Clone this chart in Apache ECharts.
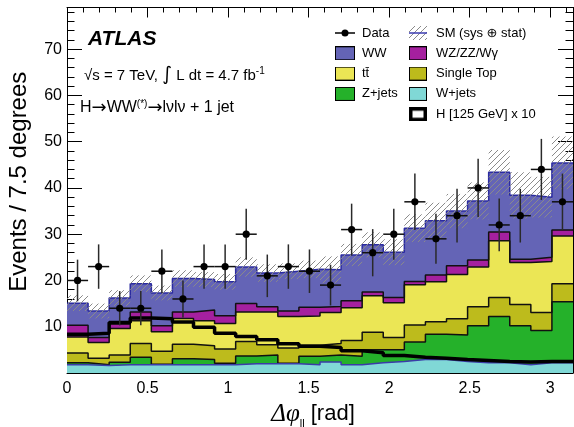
<!DOCTYPE html>
<html><head><meta charset="utf-8">
<script src="https://cdn.jsdelivr.net/npm/echarts@6/dist/echarts.min.js"></script>
<style>html,body{margin:0;padding:0;background:#fff}#c{width:574px;height:427px}</style>
</head><body><div id="c"></div>
<script>
// ---- data (24 bins of 7.5 degrees over 0..pi) ----
const NBINS = 24;
const wjets     = [1.8,1.6,1.8,1.8,1.8,1.8,1.8,1.8,2.0,2.0,2.0,1.8,2.4,1.8,2.2,2.5,2.9,2.9,2.5,2.2,2.2,1.8,2.2,2.2];
const zjets     = [0.4,0.2,0.5,1.6,0.1,1.3,1.1,0.3,1.7,1.9,0.1,1.8,1.5,1.8,2.8,2.5,3.8,5.5,5.7,8.0,10.0,8.4,7.0,13.2];
const singleTop = [2.1,1.4,1.6,3.0,2.8,3.1,3.0,3.1,3.1,2.2,3.3,2.4,2.5,3.4,3.8,2.7,3.7,2.7,3.5,4.1,4.1,4.6,3.9,3.9];
const ttbar     = [3.5,3.4,5.7,4.9,4.2,5.6,5.4,5.5,6.4,7.1,6.8,6.3,6.7,7.1,7.9,7.5,8.7,8.6,9.6,8.6,12.3,9.1,11.0,10.3];
const wzzz      = [2.5,1.1,1.0,1.9,1.3,1.4,2.3,1.7,1.8,1.1,1.2,1.9,1.3,1.5,0.8,1.1,0.7,1.5,1.9,1.5,1.9,0.7,0.9,1.3];
const ww        = [4.8,5.7,5.6,6.1,7.1,7.2,6.6,7.3,7.9,7.3,8.6,8.2,7.9,9.9,10.2,9.8,11.5,11.7,11.8,12.8,12.9,13.8,13.0,14.5];
const smErr     = [1.7,1.6,1.7,1.8,1.6,1.8,1.6,1.7,2.1,1.9,1.7,1.9,2.9,2.4,2.7,2.8,3.0,3.9,3.7,4.0,4.8,5.0,4.4,5.7];
const higgsX10  = [8.4,8.6,10.9,11.9,11.7,11.0,9.9,8.6,7.9,7.2,6.3,5.8,5.5,4.8,4.4,3.8,3.4,3.2,2.9,2.7,2.5,2.4,2.5,2.5];
const dataCounts= [20,23,14,14,22,16,23,23,30,21,23,22,19,31,26,30,37,29,34,40,32,34,44,37];
const dataErr   = [4.5,4.8,3.7,3.7,4.7,4.0,4.8,4.8,5.5,4.6,4.8,4.7,4.4,5.6,5.1,5.5,6.1,5.4,5.8,6.3,5.7,5.8,6.6,6.1];
const yTickLabels = [10,20,30,40,50,60,70];

// ---- helpers ----
const FONT = "'Liberation Sans', Arial, Helvetica, 'DejaVu Sans', sans-serif";
const edges = Array.from({length: NBINS + 1}, (_, i) => i * Math.PI / NBINS);
function stepData(vals){ return edges.map((e, i) => [e, vals[Math.min(i, vals.length - 1)]]); }

function makeCanvas(w, h, draw){ const c = document.createElement('canvas'); c.width = w; c.height = h; draw(c.getContext('2d'), w, h); return c; }
function hatch(g, w, h){
  g.strokeStyle = '#8a8a8a'; g.lineWidth = 1; g.beginPath();
  for (let k = -h; k < w + h; k += 6){ g.moveTo(k, h); g.lineTo(k + h, 0); }
  g.stroke();
}
const hatchTile = makeCanvas(6, 6, (g) => { g.strokeStyle = '#8a8a8a'; g.lineWidth = 1; g.beginPath(); g.moveTo(0,6); g.lineTo(6,0); g.moveTo(-1,1); g.lineTo(1,-1); g.moveTo(5,7); g.lineTo(7,5); g.stroke(); });
const hatchPattern = { image: hatchTile, repeat: 'repeat' };

// bottom to top
const layers = [
  {name: 'W+jets',        vals: wjets,     fill: '#80d8d6', edge: '#3b3ba8'},
  {name: 'Z+jets',        vals: zjets,     fill: '#25b12a', edge: '#111111'},
  {name: 'Single Top',    vals: singleTop, fill: '#bdbb1c', edge: '#111111'},
  {name: 'tt\u0304',      vals: ttbar,     fill: '#ebe655', edge: '#111111'},
  {name: 'WZ/ZZ/W\u03b3', vals: wzzz,      fill: '#a5209f', edge: '#111111'},
  {name: 'WW',            vals: ww,        fill: '#6464b6', edge: '#2b2ba0'}
];
// cumulative sums for the stack
const cumulative = [];
layers.forEach((L, k) => { cumulative.push(L.vals.map((v, i) => v + (k ? cumulative[k-1][i] : 0))); });
const smTotal = cumulative[cumulative.length - 1];

function boxIcon(fill, w){ return 'image://' + makeCanvas(w, 14, (g) => { g.fillStyle = fill; g.fillRect(0,0,w,14); g.strokeStyle = '#000'; g.lineWidth = 1; g.strokeRect(0.5,0.5,w-1,13); }).toDataURL(); }
const dataIcon = 'image://' + makeCanvas(20, 14, (g) => { g.strokeStyle = '#000'; g.lineWidth = 1.5; g.beginPath(); g.moveTo(0,7); g.lineTo(20,7); g.stroke(); g.beginPath(); g.arc(10,7,3.5,0,Math.PI*2); g.fillStyle='#000'; g.fill(); }).toDataURL();
const smIcon = 'image://' + makeCanvas(18, 14, (g, w, h) => { hatch(g, w, h); g.strokeStyle = '#3b3bb0'; g.lineWidth = 1.5; g.beginPath(); g.moveTo(0,7); g.lineTo(18,7); g.stroke(); }).toDataURL();
const hIcon = 'image://' + makeCanvas(18, 14, (g) => { g.fillStyle = '#fff'; g.fillRect(0,0,18,14); g.strokeStyle = '#000'; g.lineWidth = 3.5; g.strokeRect(1.75,1.75,14.5,10.5); }).toDataURL();

const chart = echarts.init(document.getElementById('c'), null, {renderer: 'canvas'});

const xBase = {type: 'value', min: 0, max: Math.PI, splitLine: {show: false}, offset: 0};
const yBase = {type: 'value', min: 0, max: 79, splitLine: {show: false}, offset: 0};
const lineBlack = {show: true, onZero: false, lineStyle: {color: '#000', width: 1}};
const noLine = {show: false, onZero: false};

// top layer first so lower layers paint over the area beneath
const series = [];
for (let k = layers.length - 1; k >= 0; k--) {
  const L = layers[k];
  series.push({
    type: 'line', name: L.name, step: 'end', data: stepData(cumulative[k]),
    symbol: 'none', showSymbol: false, silent: true, z: 2,
    lineStyle: {color: L.edge, width: 1.5},
    areaStyle: {color: L.fill, opacity: 1, origin: 'start'},
    itemStyle: {color: L.fill}
  });
}

series.push({
  type: 'custom', name: 'SM (sys \u2295 stat)', z: 3, silent: true,
  data: smTotal.map((t, i) => [edges[i], edges[i+1], t - smErr[i], t + smErr[i]]),
  encode: {x: [0, 1], y: [2, 3]},
  renderItem: (params, api) => {
    const p0 = api.coord([api.value(0), api.value(3)]);
    const p1 = api.coord([api.value(1), api.value(2)]);
    return {type: 'rect', shape: {x: p0[0], y: p0[1], width: p1[0] - p0[0], height: p1[1] - p0[1]}, style: {fill: hatchPattern}};
  }
});

series.push({
  type: 'line', name: 'H [125 GeV] x 10', step: 'end', data: stepData(higgsX10),
  symbol: 'none', showSymbol: false, silent: true, z: 4,
  lineStyle: {color: '#000', width: 3.5}
});

series.push({
  type: 'custom', name: 'Data', z: 5, silent: true,
  data: dataCounts.map((n, i) => [(edges[i] + edges[i+1]) / 2, n, dataErr[i], edges[i], edges[i+1]]),
  encode: {x: 0, y: 1},
  renderItem: (params, api) => {
    const c = api.coord([api.value(0), api.value(1)]);
    const t = api.coord([api.value(0), api.value(1) + api.value(2)]);
    const b = api.coord([api.value(0), api.value(1) - api.value(2)]);
    const l = api.coord([api.value(3), api.value(1)]);
    const r = api.coord([api.value(4), api.value(1)]);
    return {type: 'group', children: [
      {type: 'line', shape: {x1: c[0], y1: t[1], x2: c[0], y2: b[1]}, style: {stroke: '#2a2a2a', lineWidth: 1.5}},
      {type: 'line', shape: {x1: l[0], y1: c[1], x2: r[0], y2: c[1]}, style: {stroke: '#111', lineWidth: 1.5}},
      {type: 'circle', shape: {cx: c[0], cy: c[1], r: 3.6}, style: {fill: '#000'}}
    ]};
  }
});

const legendText = {fontFamily: FONT, fontSize: 13, color: '#000', fontWeight: 'normal'};
const tx = (extra) => Object.assign({fontFamily: FONT, fontSize: 15, color: '#000', fontWeight: 'normal'}, extra || {});

chart.setOption({
  animation: false,
  backgroundColor: '#fff',
  grid: {left: 67, right: 1, top: 7.5, bottom: 54, containLabel: false, outerBoundsMode: 'none'},
  title: [
    {text: 'ATLAS', left: 88, top: 29, padding: 0,
     textStyle: {fontFamily: FONT, fontSize: 21, fontWeight: 'bold', fontStyle: 'italic', color: '#000'}},
    {text: '{a|\u221As = 7 TeV, }{i|\u222B}{a| L dt = 4.7 fb}{s|-1}', left: 84, top: 66, padding: 0,
     textStyle: {fontWeight: 'normal', rich: {
       a: tx(), i: tx({fontSize: 19, fontFamily: "'DejaVu Sans', sans-serif"}),
       s: tx({fontSize: 10, verticalAlign: 'top'})}}},
    {text: '{a|H}{r|\u2192}{a|WW}{s|(*)}{r|\u2192}{a|l\u03bdl\u03bd + 1 jet}', left: 80, top: 99, padding: 0,
     textStyle: {fontWeight: 'normal', rich: {
       a: tx({fontSize: 16}), r: tx({fontSize: 18, fontFamily: "'DejaVu Sans', sans-serif"}),
       s: tx({fontSize: 10, verticalAlign: 'top'})}}}
  ],
  legend: [
    {orient: 'vertical', left: 335, top: 26, itemWidth: 20, itemHeight: 14, itemGap: 6.3, padding: 0,
     selectedMode: false, textStyle: Object.assign({padding: [0,0,0,2]}, legendText),
     data: [
       {name: 'Data', icon: dataIcon},
       {name: 'WW', icon: boxIcon('#6464b6', 20)},
       {name: 'tt\u0304', icon: boxIcon('#ebe655', 20)},
       {name: 'Z+jets', icon: boxIcon('#25b12a', 20)}
     ]},
    {orient: 'vertical', left: 409, top: 26, itemWidth: 18, itemHeight: 14, itemGap: 6.3, padding: 0,
     selectedMode: false, textStyle: Object.assign({padding: [0,0,0,4]}, legendText),
     data: [
       {name: 'SM (sys \u2295 stat)', icon: smIcon},
       {name: 'WZ/ZZ/W\u03b3', icon: boxIcon('#a5209f', 18)},
       {name: 'Single Top', icon: boxIcon('#bdbb1c', 18)},
       {name: 'W+jets', icon: boxIcon('#80d8d6', 18)},
       {name: 'H [125 GeV] x 10', icon: hIcon}
     ]}
  ],
  xAxis: [
    Object.assign({}, xBase, {position: 'bottom', interval: 0.5, axisLine: lineBlack,
      axisTick: {inside: true, length: 10, lineStyle: {color: '#000'}},
      axisLabel: {fontFamily: FONT, fontSize: 16, color: '#000', margin: 8, showMaxLabel: false},
      name: '{g|\u0394\u03c6}{s|ll}{r| [rad]}', nameLocation: 'middle', nameGap: 20,
      nameTextStyle: {padding: [0, 14, 0, 0], rich: {
        g: {fontFamily: "'Liberation Serif', serif", fontStyle: 'italic', fontSize: 25, color: '#000', lineHeight: 30},
        s: {fontFamily: FONT, fontSize: 11, color: '#000', lineHeight: 12, verticalAlign: 'bottom'},
        r: {fontFamily: FONT, fontSize: 22, color: '#000', lineHeight: 30}}}}),
    Object.assign({}, xBase, {position: 'bottom', interval: 0.1, axisLine: noLine,
      axisTick: {inside: true, length: 5, lineStyle: {color: '#000'}}, axisLabel: {show: false}}),
    Object.assign({}, xBase, {position: 'top', interval: 0.5, axisLine: lineBlack,
      axisTick: {inside: true, length: 10, lineStyle: {color: '#000'}}, axisLabel: {show: false}}),
    Object.assign({}, xBase, {position: 'top', interval: 0.1, axisLine: noLine,
      axisTick: {inside: true, length: 5, lineStyle: {color: '#000'}}, axisLabel: {show: false}})
  ],
  yAxis: [
    Object.assign({}, yBase, {position: 'left', interval: 10, axisLine: lineBlack,
      axisTick: {inside: true, length: 15, lineStyle: {color: '#000'}},
      axisLabel: {fontFamily: FONT, fontSize: 16, color: '#000', margin: 5, showMinLabel: false, showMaxLabel: false,
        formatter: v => (yTickLabels.indexOf(v) >= 0 ? String(v) : '')},
      name: 'Events / 7.5 degrees', nameLocation: 'middle', nameGap: 36,
      nameTextStyle: {fontFamily: FONT, fontSize: 24, color: '#000', padding: [0, 0, 0, 17]}}),
    Object.assign({}, yBase, {position: 'left', interval: 2, axisLine: noLine,
      axisTick: {inside: true, length: 7.5, lineStyle: {color: '#000'}}, axisLabel: {show: false}}),
    Object.assign({}, yBase, {position: 'right', interval: 10, axisLine: lineBlack,
      axisTick: {inside: true, length: 15, lineStyle: {color: '#000'}}, axisLabel: {show: false}}),
    Object.assign({}, yBase, {position: 'right', interval: 2, axisLine: noLine,
      axisTick: {inside: true, length: 7.5, lineStyle: {color: '#000'}}, axisLabel: {show: false}})
  ],
  series: series
});
</script>
</body></html>
